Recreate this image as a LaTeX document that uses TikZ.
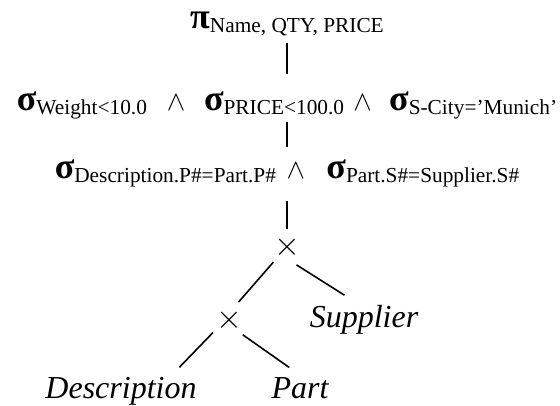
\documentclass[tikz,border=0pt]{standalone}
\usepackage{fontspec}
\setmainfont{Liberation Serif}
\tikzset{
  edge/.style={draw=black,line width=1.2pt},
  rowop/.style={inner sep=0pt,anchor=base},
  crossop/.style={
    circle,
    inner sep=0pt,
    minimum size=30pt,
    font=\fontsize{25}{28}\selectfont
  },
  relname/.style={
    inner sep=7pt,
    anchor=base,
    font=\fontsize{24}{28}\selectfont\itshape
  }
}
\newcommand{\greekop}[1]{{\fontsize{27}{30}\selectfont\bfseries #1}}
\newcommand{\subtext}[1]{\raisebox{-3.5pt}{\fontsize{16}{19}\selectfont #1}}
\newcommand{\selop}[1]{\greekop{σ}\subtext{#1}}
\newcommand{\andop}[2]{\hspace{#1}{\fontsize{20}{24}\selectfont$\wedge$}\hspace{#2}}

\begin{document}
\begin{tikzpicture}[x=0.75pt,y=-0.75pt]
  \useasboundingbox (0,0) rectangle (560,405);

  % projection and the two selection rows
  \node[rowop] (proj) at (287,28) {\greekop{π}\subtext{Name, QTY, PRICE}};
  \node[rowop] (selone) at (287,110)
    {\selop{Weight<10.0}\andop{15pt}{14pt}\selop{PRICE<100.0}\andop{7pt}{13pt}\selop{S-City=’Munich’}};
  \node[rowop] (seltwo) at (287,178)
    {\selop{Description.P\#=Part.P\#}\andop{8pt}{16pt}\selop{Part.S\#=Supplier.S\#}};

  \draw[edge,shorten <=5pt,shorten >=13pt] (proj) -- (selone);
  \draw[edge,shorten <=2pt,shorten >=9pt] (selone) -- (seltwo);

  % cross products and base relations
  \node[crossop] (ptop) at (287,247) {$\times$};
  \node[crossop] (pbot) at (229,320) {$\times$};
  \node[relname] (supp) at (364,327) {Supplier};
  \node[relname] (desc) at (121,398) {Description};
  \node[relname] (part) at (300,398) {Part};

  \draw[edge,shorten <=10.5pt,shorten >=-2pt] (seltwo) -- (ptop);
  \draw[edge] (ptop.228) -- (pbot.62);
  \draw[edge] (ptop.298) -- (supp.129);
  \draw[edge] (pbot.218) -- (desc.22);
  \draw[edge] (pbot.313) -- (part.118);
\end{tikzpicture}
\end{document}
